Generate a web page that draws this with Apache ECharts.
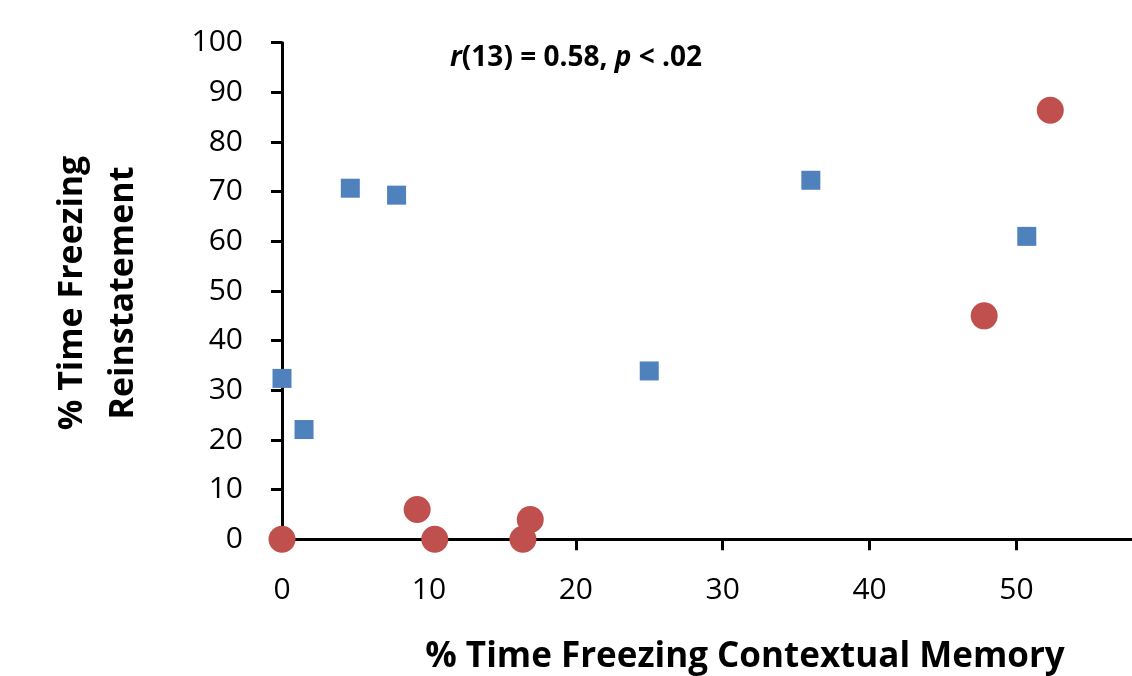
<!DOCTYPE html>
<html>
<head>
<meta charset="utf-8">
<script src="https://cdn.jsdelivr.net/npm/echarts@6/dist/echarts.min.js"></script>
<style>html,body{margin:0;padding:0;background:#fff}#c{width:1132px;height:676px}</style>
</head>
<body>
<div id="c"></div>
<script>
// Data
const blueX = [0, 1.5, 4.65, 7.8, 25.0, 36.0, 50.7];
const blueY = [32.4, 22.1, 70.7, 69.3, 33.9, 72.3, 61.0];
const redX = [0, 9.2, 10.4, 16.4, 16.9, 52.3, 47.8];
const redY = [0, 6.0, 0, 0, 4.0, 86.4, 45.0];
const xTitle = '% Time Freezing Contextual Memory';
const yTitle1 = '% Time Freezing';
const yTitle2 = 'Reinstatement';

const font = '"Open Sans", "Noto Sans", sans-serif';
const chart = echarts.init(document.getElementById('c'));
const axisCommon = {
  axisLine: {show: true, lineStyle: {color: '#000', width: 3}},
  axisTick: {show: true, inside: false, length: 11, lineStyle: {color: '#000', width: 3}},
  splitLine: {show: false},
  axisLabel: {fontFamily: font, fontSize: 30, color: '#000'}
};
chart.setOption({
  animation: false,
  backgroundColor: '#fff',
  grid: {left: 282, top: 42.7, width: 881.4, height: 496.6, outerBoundsMode: 'none', containLabel: false},
  xAxis: Object.assign({}, axisCommon, {
    type: 'value', min: 0, max: 60, interval: 10,
    axisLabel: Object.assign({}, axisCommon.axisLabel, {margin: 36})
  }),
  yAxis: Object.assign({}, axisCommon, {
    type: 'value', min: 0, max: 100, interval: 10,
    axisLabel: Object.assign({}, axisCommon.axisLabel, {margin: 39})
  }),
  series: [
    {type: 'scatter', symbol: 'rect', symbolSize: 19, itemStyle: {color: '#4F81BD', opacity: 1},
     data: blueX.map((x, i) => [x, blueY[i]])},
    {type: 'scatter', symbol: 'circle', symbolSize: 27, itemStyle: {color: '#C0504D', opacity: 1},
     data: redX.map((x, i) => [x, redY[i]])}
  ],
  graphic: [
    {type: 'text', x: 745, y: 657, style: {text: xTitle, font: 'bold 35px ' + font, fill: '#000', textAlign: 'center', textVerticalAlign: 'middle'}},
    {type: 'text', x: 72, y: 293, rotation: Math.PI / 2, style: {text: yTitle1, font: 'bold 34px ' + font, fill: '#000', textAlign: 'center', textVerticalAlign: 'middle'}},
    {type: 'text', x: 123, y: 293, rotation: Math.PI / 2, style: {text: yTitle2, font: 'bold 34px ' + font, fill: '#000', textAlign: 'center', textVerticalAlign: 'middle'}},
    {type: 'text', x: 576, y: 58, style: {
      text: '{i|r}{b|(13) = 0.58, }{i|p}{b| < .02}', textAlign: 'center', textVerticalAlign: 'middle',
      rich: {
        i: {fontFamily: font, fontWeight: 'bold', fontStyle: 'italic', fontSize: 28, fill: '#000'},
        b: {fontFamily: font, fontWeight: 'bold', fontSize: 28, fill: '#000'}
      }}}
  ]
});
</script>
</body>
</html>
